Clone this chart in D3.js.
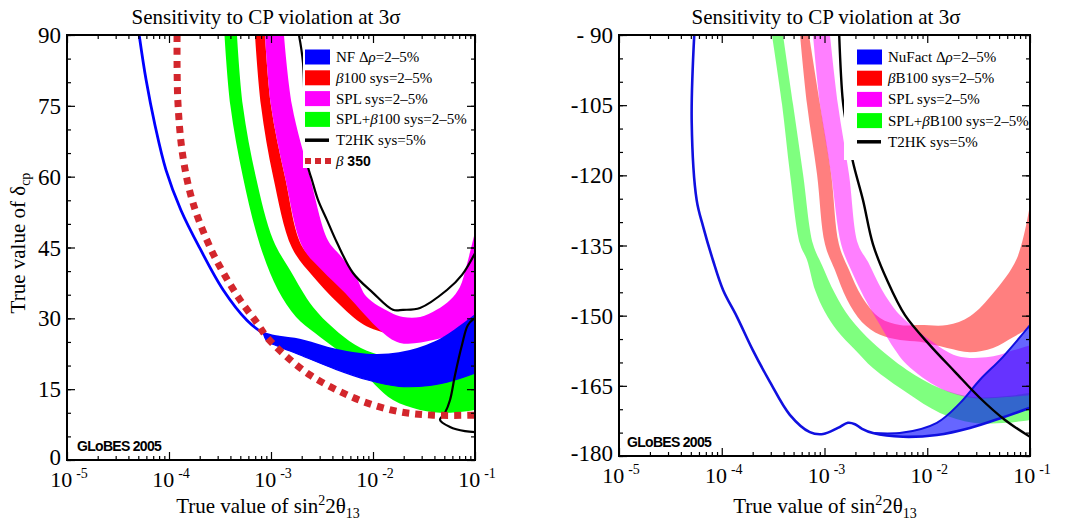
<!DOCTYPE html>
<meta charset="utf-8">
<head>
<style>
body { margin: 0; background: #fff; }
text { font-family: "Liberation Serif", "Times New Roman", serif; fill: #000; }
.frame { fill: none; stroke: #000; stroke-width: 2px; }
.axis path { display: none; }
.axis line { stroke: #000; stroke-width: 1.2px; }
.ylab { font-size: 23px; }
.xlab { font-size: 22px; }
.title { font-size: 21px; }
.atitle { font-size: 21px; }
.legend text { font-size: 15px; }
.globes { font-family: "Liberation Sans", Arial, sans-serif; font-weight: bold; font-size: 14px; letter-spacing: -0.7px; }
</style>
<script src="https://cdn.jsdelivr.net/npm/d3@7"></script>
</head>
<body>
<div id="chart"></div>
<script>

//// axes
var xDomain = [1e-5, 1e-1];
var xTicks = [1e-5, 1e-4, 1e-3, 1e-2, 1e-1];
var xTickExp = ["-5", "-4", "-3", "-2", "-1"];
var yTicksL = [0, 15, 30, 45, 60, 75, 90];
var yLabelsL = ["0", "15", "30", "45", "60", "75", "90"];
var yTicksR = [-180, -165, -150, -135, -120, -105, -90];
var yLabelsR = ["-180", "-165", "-150", "-135", "-120", "-105", "- 90"];

var titleText = "Sensitivity to CP violation at 3\u03c3";
var legendL = ["NF \u0394\u03c1=2\u20135%", "\u03b2100 sys=2\u20135%", "SPL sys=2\u20135%", "SPL+\u03b2100 sys=2\u20135%", "T2HK sys=5%", "\u03b2 350"];
var legendR = ["NuFact \u0394\u03c1=2\u20135%", "\u03b2B100 sys=2\u20135%", "SPL sys=2\u20135%", "SPL+\u03b2B100 sys=2\u20135%", "T2HK sys=5%"];

//// left panel: [sin^2 2theta13, delta_cp in degrees]
var nfLine = [[5.1e-5,90],[5.96e-5,80.5],[7.29e-5,70.9],[9.35e-5,61.4],[1.31e-4,52.9],[2.0e-4,44.9],[3.4e-4,36.0],[5.8e-4,29.6],[8.4e-4,26.9],[1.2e-3,26.0],[1.9e-3,25.4],[4.2e-3,23.3],[8.7e-3,22.2],[1.8e-2,22.5],[4.2e-2,25.0],[7.0e-2,28.0],[0.1,30.5]];
var nfLow = [[8.4e-4,26.9],[9.1e-4,25.2],[1.2e-3,24.0],[1.9e-3,22.3],[4.2e-3,19.3],[8.7e-3,17.0],[1.8e-2,15.6],[3.6e-2,15.8],[6.0e-2,16.8],[0.1,18.4]];

var b100Lo = [[6.97e-4,90],[7.98e-4,75],[1.05e-3,60],[1.6e-3,45],[2.6e-3,38.8],[4.4e-3,33.5],[6.97e-3,29.6],[9.3e-3,28.0],[1.31e-2,26.9],[1.84e-2,25.8],[3.9e-2,26.5],[7.1e-2,28.6],[0.1,30.1]];
var b100Hi = [[8.73e-4,90],[1.0e-3,75],[1.37e-3,60],[2.05e-3,45],[3.4e-3,40.7],[6.0e-3,36.0],[1.17e-2,31.8],[1.84e-2,29.2],[4.2e-2,30.7],[7.1e-2,33.9],[0.1,40.2]];

var splLo = [[8.73e-4,90],[1.0e-3,75],[1.37e-3,60],[2.05e-3,45],[3.16e-3,40.2],[5.3e-3,35.4],[8.35e-3,30.7],[1.17e-2,27.5],[1.84e-2,24.8],[3.9e-2,25.4],[7.1e-2,27.5],[0.1,29.0]];
var splHi = [[1.34e-3,90],[1.61e-3,75],[2.41e-3,60],[3.6e-3,46.6],[4.74e-3,43.4],[6.67e-3,39.2],[8.7e-3,34.5],[1.47e-2,31.3],[1.97e-2,30.3],[2.9e-2,30.3],[4.2e-2,31.8],[5.7e-2,33.9],[7.1e-2,36.6],[8.3e-2,41.3],[0.1,48.3]];

var mixLo = [[3.5e-4,90],[4.0e-4,75],[5.3e-4,60],[7.8e-4,45.5],[1.17e-3,36.0],[1.76e-3,30.3],[2.7e-3,26.9],[4.74e-3,22.9],[7.46e-3,19.5],[1.05e-2,15.9],[1.57e-2,12.7],[2.89e-2,10.6],[5.31e-2,10.0],[0.1,10.6]];
var mixHi = [[4.64e-4,90],[5.3e-4,75],[7.1e-4,60],[1.05e-3,46.6],[1.54e-3,40.2],[2.58e-3,32.4],[4.06e-3,28.0],[6.67e-3,24.4],[1.17e-2,22.2],[2.89e-2,21.2],[0.1,21.6]];

var t2hkUp = [[1.88e-3,90],[2.06e-3,84.1],[2.25e-3,63.1],[2.52e-3,59.3],[2.89e-3,55.1],[3.54e-3,50.8],[4.44e-3,46.0],[6.37e-3,39.6],[1.0e-2,35.4],[1.57e-2,31.8],[1.97e-2,31.8],[2.89e-2,32.2],[5.31e-2,36.0],[7.46e-2,39.2],[0.1,43.8]];
var t2hkDown = [[0.1,30.1],[8.53e-2,28.6],[7.46e-2,24.4],[6.37e-2,18.0],[5.69e-2,12.7],[5.08e-2,10.0],[4.54e-2,8.5],[5.69e-2,7.0],[7.98e-2,6.1],[0.1,5.9]];

var b350 = [[1.20e-4,90],[1.22e-4,76.2],[1.37e-4,64.2],[1.72e-4,54.4],[2.52e-4,45.1],[3.38e-4,39.8],[4.97e-4,33.9],[7.3e-4,29.0],[9.1e-4,26.0],[1.44e-3,21.8],[2.41e-3,18.0],[4.44e-3,14.8],[8.7e-3,12.1],[1.84e-2,10.2],[3.87e-2,9.5],[0.1,9.5]];

//// right panel: [sin^2 2theta13, delta_cp in degrees]
var nuLine = [[5.4e-5,-90],[5.1e-5,-108.6],[5.7e-5,-125.3],[6.6e-5,-131],[8.2e-5,-138.1],[1.03e-4,-144.5],[1.41e-4,-150.3],[2.0e-4,-157.3],[2.95e-4,-164.2],[4.6e-4,-171.2],[7.2e-4,-174.9],[9.7e-4,-175.3],[1.35e-3,-174.0],[1.69e-3,-172.9],[1.98e-3,-173.2],[2.32e-3,-174.2],[2.96e-3,-175.1],[5.8e-3,-175.9],[1.24e-2,-175.5],[2.6e-2,-174.0],[5.5e-2,-171.7],[0.1,-169.7]];
var nuUp = [[2.96e-3,-175.1],[5.8e-3,-175.0],[1.24e-2,-172.9],[2.08e-2,-168.7],[3.26e-2,-163.7],[5.46e-2,-158.8],[0.1,-152.0]];

var bb100Lo = [[5.78e-4,-90],[6.76e-4,-104.8],[8.45e-4,-119.7],[1.01e-3,-134.7],[1.26e-3,-140.2],[1.66e-3,-146.6],[2.32e-3,-151.4],[3.47e-3,-154.1],[5.43e-3,-155.2],[8.49e-3,-155.6],[1.56e-2,-156.9],[2.61e-2,-157.8],[4.37e-2,-156.9],[6.84e-2,-154.6],[0.1,-152.6]];
var bb100Hi = [[7.07e-4,-90],[9.04e-4,-104.8],[1.16e-3,-119.7],[1.38e-3,-134.7],[1.73e-3,-140.2],[2.32e-3,-146.0],[3.47e-3,-150.5],[5.43e-3,-152.0],[8.49e-3,-152.0],[1.56e-2,-152.0],[2.61e-2,-150.1],[4.37e-2,-145.2],[7.47e-2,-137.7],[0.1,-126.3]];

var splRLo = [[7.73e-4,-90],[9.04e-4,-104.8],[1.16e-3,-119.7],[1.45e-3,-134.7],[1.81e-3,-140.2],[2.42e-3,-146.0],[3.47e-3,-152.0],[4.85e-3,-157.3],[6.35e-3,-160.5],[1.33e-2,-165.5],[2.79e-2,-167.6],[5.97e-2,-167.4],[0.1,-167.0]];
var splRHi = [[1.13e-3,-90],[1.35e-3,-104.8],[1.73e-3,-119.7],[2.12e-3,-134.7],[2.65e-3,-138.5],[3.63e-3,-144.5],[5.08e-3,-149.2],[7.11e-3,-152.2],[1.06e-2,-155.2],[1.95e-2,-158.6],[4.08e-2,-158.8],[7.15e-2,-157.3],[0.1,-156.3]];

var mixRLo = [[3.08e-4,-90],[3.86e-4,-104.8],[4.62e-4,-119.7],[5.78e-4,-134.7],[6.76e-4,-138.1],[8.09e-4,-144.5],[1.01e-3,-149.2],[1.32e-3,-153.1],[1.98e-3,-157.3],[2.96e-3,-161.2],[6.35e-3,-166.5],[1.33e-2,-170.8],[2.79e-2,-172.9],[5.97e-2,-172.9],[0.1,-172.3]];
var mixRHi = [[3.95e-4,-90],[4.94e-4,-104.8],[6.18e-4,-119.7],[7.73e-4,-134.7],[9.46e-4,-139.2],[1.26e-3,-145.2],[1.77e-3,-150.5],[2.96e-3,-155.8],[6.35e-3,-161.6],[1.33e-2,-165.5],[2.79e-2,-167.4],[5.97e-2,-167.2],[0.1,-166.5]];

var t2hkR = [[1.39e-3,-90],[1.51e-3,-104.2],[1.67e-3,-110.5],[1.89e-3,-117.1],[2.37e-3,-125.3],[2.96e-3,-134.7],[4.06e-3,-142.4],[6.07e-3,-149.9],[1.06e-2,-156.3],[1.86e-2,-162.0],[3.26e-2,-167.6],[5.71e-2,-172.3],[0.1,-175.9]];


var svg = d3.select("#chart").append("svg")
  .attr("width", 1074)
  .attr("height", 522);

var panels = [
  {id: "L", x0: 67, x1: 475, y0: 35, y1: 460, yDomain: [0, 90], yTicks: yTicksL, yLabels: yLabelsL,
   titleX: 266, xTitleX: 268, legend: legendL, legendBox: [303, 36, 171, 132], legendX: 305, legendY0: 57, legendDY: 20.8,
   globes: [77, 451],
   bands: [
     {lo: mixLo, hi: mixHi, color: "#00ff00", op: 1},
     {lo: b100Lo, hi: b100Hi, color: "#ff0000", op: 1},
     {lo: splLo, hi: splHi, color: "#ff00ff", op: 1},
     {lo: nfLine.filter(function(d){ return d[0] >= nfLow[0][0]; }), hi: nfLow, color: "#0000ff", op: 1}
   ],
   lines: [
     {pts: nfLine, color: "#0000ff", w: 2.8},
     {pts: nfLow, color: "#0000ff", w: 1.2},
     {pts: t2hkUp, color: "#000", w: 2.2},
     {pts: t2hkDown, color: "#000", w: 2.2},
     {pts: b350, color: "#d3262c", w: 7, dash: "7,6"}
   ],
   swatch: ["#0000ff", "#ff0000", "#ff00ff", "#00ff00", "line", "dots"]},
  {id: "R", x0: 619, x1: 1030, y0: 35, y1: 456, yDomain: [-180, -90], yTicks: yTicksR, yLabels: yLabelsR,
   titleX: 826, xTitleX: 825, legend: legendR, legendBox: [844, 36, 185, 124], legendX: 857, legendY0: 57, legendDY: 21.2,
   globes: [627, 447],
   bands: [
     {lo: mixRLo, hi: mixRHi, color: "#00ff00", op: 0.5},
     {lo: bb100Lo, hi: bb100Hi, color: "#ff0000", op: 0.5},
     {lo: splRLo, hi: splRHi, color: "#ff00ff", op: 0.5},
     {lo: nuLine.filter(function(d){ return d[0] >= nuUp[0][0]; }), hi: nuUp, color: "#0000ff", op: 0.6}
   ],
   lines: [
     {pts: nuLine, color: "#1010e0", w: 2.6},
     {pts: nuUp, color: "#1010e0", w: 2},
     {pts: t2hkR, color: "#000", w: 2.4}
   ],
   swatch: ["#0000ff", "#ff0000", "#ff00ff", "#00ff00", "line"]}
];

// greek letters in italics, like the original legend
function richText(t, str) {
  var runs = [], cur = "", it = false;
  for (var i = 0; i < str.length; i++) {
    var c = str[i], isG = (c == "\u03b2" || c == "\u03c1");
    if (isG != it && cur) { runs.push({s: cur, it: it}); cur = ""; }
    it = isG; cur += c;
  }
  if (cur) runs.push({s: cur, it: it});
  runs.forEach(function(r) {
    t.append("tspan").text(r.s).style("font-style", r.it ? "italic" : null);
  });
}

panels.forEach(function(p) {

  var x = d3.scaleLog().domain(xDomain).range([p.x0, p.x1]);
  var y = d3.scaleLinear().domain(p.yDomain).range([p.y1, p.y0]);

  var line = d3.line()
    .x(function(d) { return x(d[0]); })
    .y(function(d) { return y(d[1]); })
    .curve(d3.curveCatmullRom.alpha(0.5));

  function band(a, b) {
    var pb = line(b.slice().reverse());
    return line(a) + "L" + pb.slice(1) + "Z";
  }

  svg.append("clipPath").attr("id", "clip" + p.id)
    .append("rect")
      .attr("x", p.x0).attr("y", p.y0)
      .attr("width", p.x1 - p.x0).attr("height", p.y1 - p.y0);

  var plot = svg.append("g").attr("clip-path", "url(#clip" + p.id + ")");

  ////bands
  plot.selectAll(".band")
    .data(p.bands)
    .enter()
    .append("path")
      .attr("class", "band")
      .attr("d", function(d) { return band(d.lo, d.hi); })
      .attr("fill", function(d) { return d.color; })
      .attr("fill-opacity", function(d) { return d.op; });

  ////lines
  plot.selectAll(".ln")
    .data(p.lines)
    .enter()
    .append("path")
      .attr("class", "ln")
      .attr("d", function(d) { return line(d.pts); })
      .attr("fill", "none")
      .attr("stroke", function(d) { return d.color; })
      .attr("stroke-width", function(d) { return d.w; })
      .attr("stroke-dasharray", function(d) { return d.dash || null; });

  ////legend
  var lg = svg.append("g").attr("class", "legend");
  lg.append("rect")
    .attr("x", p.legendBox[0]).attr("y", p.legendBox[1])
    .attr("width", p.legendBox[2]).attr("height", p.legendBox[3])
    .attr("fill", "#fff");
  p.legend.forEach(function(lab, i) {
    var cy = p.legendY0 + i * p.legendDY, sw = p.swatch[i];
    if (sw == "line") {
      lg.append("line").attr("x1", p.legendX).attr("x2", p.legendX + 24)
        .attr("y1", cy).attr("y2", cy).attr("stroke", "#000").attr("stroke-width", 3.5);
    } else if (sw == "dots") {
      lg.append("line").attr("x1", p.legendX).attr("x2", p.legendX + 26)
        .attr("y1", cy).attr("y2", cy).attr("stroke", "#d3262c").attr("stroke-width", 6)
        .attr("stroke-dasharray", "6,4");
    } else {
      lg.append("rect").attr("x", p.legendX).attr("y", cy - 7.5)
        .attr("width", 25).attr("height", 15).attr("fill", sw);
    }
    var t = lg.append("text").attr("x", p.legendX + 31).attr("y", cy + 5);
    if (sw == "dots") {
      var parts = lab.split(" ");
      t.append("tspan").text(parts[0]).style("font-style", "italic");
      t.append("tspan").text(" " + parts[1])
        .style("font-family", "'Liberation Sans', Arial, sans-serif").style("font-weight", "bold").style("font-size", "14px");
    } else {
      richText(t, lab);
    }
  });

  ////frame and ticks
  svg.append("rect").attr("class", "frame")
    .attr("x", p.x0).attr("y", p.y0)
    .attr("width", p.x1 - p.x0).attr("height", p.y1 - p.y0);

  var minorY = d3.range(p.yDomain[0], p.yDomain[1] + 0.1, 5);
  var minorX = [];
  xTicks.slice(0, -1).forEach(function(d) { d3.range(2, 10).forEach(function(k) { minorX.push(k * d); }); });

  [[d3.axisLeft, p.x0], [d3.axisRight, p.x1]].forEach(function(a) {
    svg.append("g").attr("class", "axis").attr("transform", "translate(" + a[1] + ",0)")
      .call(a[0](y).tickValues(p.yTicks).tickSize(-8).tickFormat(""));
    svg.append("g").attr("class", "axis").attr("transform", "translate(" + a[1] + ",0)")
      .call(a[0](y).tickValues(minorY).tickSize(-4).tickFormat(""));
  });
  [[d3.axisBottom, p.y1], [d3.axisTop, p.y0]].forEach(function(a) {
    svg.append("g").attr("class", "axis").attr("transform", "translate(0," + a[1] + ")")
      .call(a[0](x).tickValues(xTicks).tickSize(-8).tickFormat(""));
    svg.append("g").attr("class", "axis").attr("transform", "translate(0," + a[1] + ")")
      .call(a[0](x).tickValues(minorX).tickSize(-4).tickFormat(""));
  });

  ////tick labels
  svg.selectAll(".ylab" + p.id)
    .data(p.yTicks)
    .enter()
    .append("text")
      .attr("class", "ylab")
      .attr("x", p.x0 - 6)
      .attr("y", function(d) { return y(d); })
      .attr("dy", function(d, i) { return i == 0 ? "0.2em" : "0.35em"; })
      .attr("text-anchor", "end")
      .text(function(d, i) { return p.yLabels[i]; });

  var xl = svg.selectAll(".xlab" + p.id)
    .data(xTicks)
    .enter()
    .append("text")
      .attr("class", "xlab")
      .attr("x", function(d) { return x(d) + 2; })
      .attr("y", p.y1 + 27)
      .attr("text-anchor", "middle");
  xl.append("tspan").text("10");
  xl.append("tspan").attr("dx", 4).attr("dy", -9).style("font-size", "14px")
    .text(function(d, i) { return xTickExp[i]; });

  ////titles
  svg.append("text").attr("class", "title")
    .attr("x", p.titleX).attr("y", 24).attr("text-anchor", "middle")
    .text(titleText);

  var xt = svg.append("text").attr("class", "atitle")
    .attr("x", p.xTitleX).attr("y", 513).attr("text-anchor", "middle");
  xt.append("tspan").text("True value of sin");
  xt.append("tspan").attr("dy", -8).style("font-size", "14px").text("2");
  xt.append("tspan").attr("dy", 8).text("2\u03b8");
  xt.append("tspan").attr("dy", 5).style("font-size", "14px").text("13");

  svg.append("text").attr("class", "globes")
    .attr("x", p.globes[0]).attr("y", p.globes[1])
    .text("GLoBES 2005");
});

////y title, left panel only
var yt = svg.append("text").attr("class", "atitle")
  .attr("transform", "translate(25,243) rotate(-90)")
  .attr("text-anchor", "middle");
yt.append("tspan").text("True value of \u03b4");
yt.append("tspan").attr("dy", 5).style("font-size", "14px").text("cp");

</script>
</body>
</html>
